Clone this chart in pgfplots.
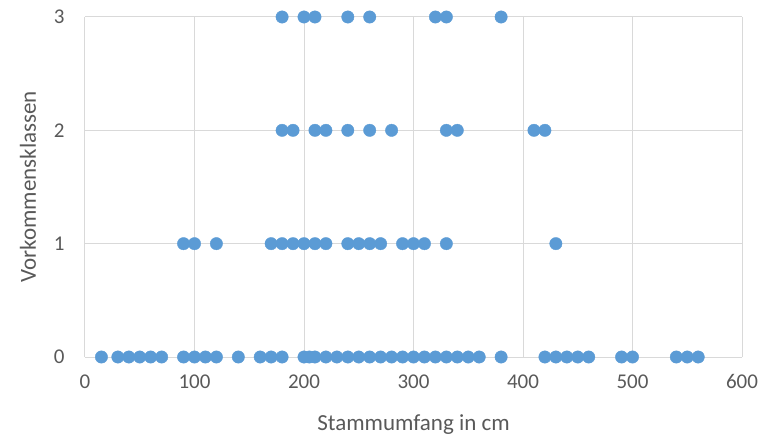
\documentclass[border=0pt]{standalone}
\usepackage{pgfplots}
\pgfplotsset{compat=1.18}
\usepackage{fontspec}
\setmainfont{Carlito}
\definecolor{xlblue}{HTML}{5B9BD5}
\definecolor{xlgrid}{HTML}{D9D9D9}
\definecolor{xltext}{HTML}{595959}
\begin{document}
\begin{tikzpicture}
\begin{axis}[
    scale only axis,
    width=657pt,
    height=340pt,
    xmin=0, xmax=600,
    ymin=0, ymax=3,
    xtick={0,100,200,300,400,500,600},
    ytick={0,1,2,3},
    xmajorgrids=true,
    ymajorgrids=true,
    grid style={xlgrid, line width=1pt},
    axis line style={draw=none},
    major tick length=0pt,
    clip=false,
    /pgf/number format/assume math mode=true,
    tick label style={font=\fontsize{21}{24}\selectfont, text=xltext},
    xticklabel style={yshift=-14pt},
    yticklabel style={xshift=-17pt},
    xlabel={Stammumfang in cm},
    ylabel={Vorkommensklassen},
    label style={font=\fontsize{23}{26}\selectfont, text=xltext},
    xlabel style={yshift=-19pt},
    ylabel style={yshift=11pt},
]

% Klasse 0
\addplot[only marks, mark=*, mark size=6.2pt, color=xlblue, mark options={draw=none, fill=xlblue}]
    coordinates {
    (15,0)(30,0)(40,0)(50,0)(60,0)(70,0)(90,0)(100,0)(110,0)(120,0)
    (140,0)(160,0)(170,0)(180,0)(200,0)(205,0)(210,0)(220,0)(230,0)(240,0)
    (250,0)(260,0)(270,0)(280,0)(290,0)(300,0)(310,0)(320,0)(330,0)(340,0)
    (350,0)(360,0)(380,0)(420,0)(430,0)(440,0)(450,0)(460,0)(490,0)(500,0)
    (540,0)(550,0)(560,0)
    };

% Klasse 1
\addplot[only marks, mark=*, mark size=6.2pt, color=xlblue, mark options={draw=none, fill=xlblue}]
    coordinates {
    (90,1)(100,1)(120,1)(170,1)(180,1)(190,1)(200,1)(210,1)(220,1)
    (240,1)(250,1)(260,1)(270,1)(290,1)(300,1)(310,1)(330,1)(430,1)
    };

% Klasse 2
\addplot[only marks, mark=*, mark size=6.2pt, color=xlblue, mark options={draw=none, fill=xlblue}]
    coordinates {
    (180,2)(190,2)(210,2)(220,2)(240,2)(260,2)(280,2)(330,2)(340,2)(410,2)(420,2)
    };

% Klasse 3
\addplot[only marks, mark=*, mark size=6.2pt, color=xlblue, mark options={draw=none, fill=xlblue}]
    coordinates {
    (180,3)(200,3)(210,3)(240,3)(260,3)(320,3)(330,3)(380,3)
    };

\path (rel axis cs:0,0) ++(-85pt,-81pt) coordinate (bbl);
\path (rel axis cs:1,1) ++(21pt,17pt) coordinate (bbr);
\useasboundingbox (bbl) rectangle (bbr);
\end{axis}
\end{tikzpicture}
\end{document}
